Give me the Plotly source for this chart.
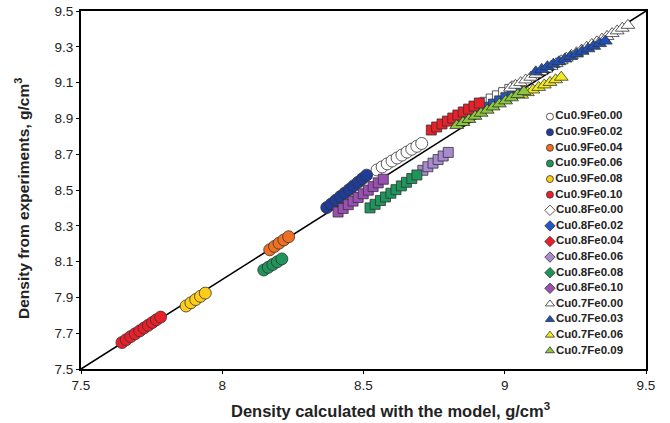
import plotly.graph_objects as go

# ---- data ----
cu9fe00_x = [8.548, 8.566, 8.584, 8.601, 8.619, 8.636, 8.654, 8.671, 8.689, 8.706]
cu9fe00_y = [8.612, 8.629, 8.646, 8.662, 8.679, 8.695, 8.712, 8.728, 8.744, 8.760]
cu9fe02_x = [8.370, 8.386, 8.402, 8.418, 8.434, 8.450, 8.465, 8.481, 8.496, 8.511]
cu9fe02_y = [8.402, 8.422, 8.443, 8.463, 8.483, 8.503, 8.523, 8.543, 8.563, 8.583]
cu9fe04_x = [8.168, 8.185, 8.201, 8.218, 8.235]
cu9fe04_y = [8.166, 8.185, 8.203, 8.221, 8.239]
cu9fe06_x = [8.147, 8.163, 8.179, 8.195, 8.211]
cu9fe06_y = [8.053, 8.068, 8.084, 8.099, 8.115]
cu9fe08_x = [7.872, 7.889, 7.906, 7.923, 7.940]
cu9fe08_y = [7.852, 7.870, 7.888, 7.906, 7.924]
cu9fe10_x = [7.645, 7.660, 7.676, 7.692, 7.708, 7.723, 7.738, 7.753, 7.767, 7.782]
cu9fe10_y = [7.648, 7.664, 7.681, 7.697, 7.713, 7.729, 7.744, 7.760, 7.775, 7.790]

cu8fe00_x = [8.930, 8.952, 8.974, 8.996, 9.018, 9.040]
cu8fe00_y = [8.990, 9.008, 9.026, 9.044, 9.062, 9.080]
cu8fe02_x = [8.850, 8.872, 8.894, 8.916, 8.938, 8.960, 8.982, 9.004, 9.026, 9.048]
cu8fe02_y = [8.890, 8.908, 8.926, 8.944, 8.962, 8.980, 8.998, 9.016, 9.034, 9.052]
cu8fe04_x = [8.740, 8.759, 8.778, 8.797, 8.816, 8.834, 8.853, 8.872, 8.891, 8.910]
cu8fe04_y = [8.835, 8.852, 8.869, 8.885, 8.902, 8.919, 8.936, 8.952, 8.969, 8.986]
cu8fe06_x = [8.710, 8.728, 8.746, 8.764, 8.782, 8.800]
cu8fe06_y = [8.610, 8.630, 8.650, 8.670, 8.690, 8.710]
cu8fe08_x = [8.523, 8.541, 8.560, 8.578, 8.597, 8.615, 8.634, 8.652, 8.671, 8.689]
cu8fe08_y = [8.400, 8.420, 8.441, 8.461, 8.482, 8.502, 8.523, 8.543, 8.564, 8.584]
cu8fe10_x = [8.410, 8.428, 8.446, 8.463, 8.481, 8.499, 8.517, 8.534, 8.552, 8.570]
cu8fe10_y = [8.377, 8.397, 8.418, 8.438, 8.458, 8.479, 8.499, 8.519, 8.540, 8.560]

cu7fe00_x = [9.020, 9.038, 9.056, 9.074, 9.092, 9.110, 9.128, 9.146, 9.164, 9.182, 9.200, 9.218,
             9.236, 9.254, 9.272, 9.290, 9.308, 9.326, 9.344, 9.362, 9.380, 9.398, 9.416, 9.436]
cu7fe00_y = [9.070, 9.085, 9.100, 9.115, 9.130, 9.146, 9.161, 9.176, 9.191, 9.206, 9.222, 9.237,
             9.252, 9.267, 9.282, 9.298, 9.313, 9.328, 9.343, 9.358, 9.374, 9.389, 9.404, 9.420]
cu7fe03_x = [9.110, 9.131, 9.151, 9.172, 9.192, 9.213, 9.233, 9.254, 9.274, 9.295, 9.315, 9.336, 9.356]
cu7fe03_y = [9.160, 9.174, 9.189, 9.203, 9.217, 9.232, 9.246, 9.260, 9.275, 9.289, 9.303, 9.318, 9.332]
cu7fe06_x = [9.060, 9.080, 9.100, 9.120, 9.140, 9.160, 9.180, 9.200]
cu7fe06_y = [9.030, 9.044, 9.059, 9.073, 9.087, 9.101, 9.116, 9.130]
cu7fe09_x = [8.830, 8.852, 8.873, 8.895, 8.916, 8.938, 8.959, 8.981, 9.003, 9.024, 9.046, 9.068]
cu7fe09_y = [8.860, 8.877, 8.894, 8.912, 8.929, 8.946, 8.964, 8.981, 8.998, 9.015, 9.033, 9.050]

diag = [7.5, 9.5]
x_ticks = [7.5, 8, 8.5, 9, 9.5]
x_tick_labels = ["7.5", "8", "8.5", "9", "9.5"]
y_ticks = [7.5, 7.7, 7.9, 8.1, 8.3, 8.5, 8.7, 8.9, 9.1, 9.3, 9.5]
y_tick_labels = ["7.5", "7.7", "7.9", "8.1", "8.3", "8.5", "8.7", "8.9", "9.1", "9.3", "9.5"]
x_title = "Density calculated with the model, g/cm<sup>3</sup>"
y_title = "Density from experiments, g/cm<sup>3</sup>"

FONT = "Arial, Liberation Sans, sans-serif"
TXT = "#222222"
OUT = dict(color="#333333", width=0.8)

# (name, x, y, plot symbol, legend symbol, color, plot size, legend size)
series = [
    ("Cu0.9Fe0.00", cu9fe00_x, cu9fe00_y, "circle", "circle", "#FFFFFF", 12, 7),
    ("Cu0.9Fe0.02", cu9fe02_x, cu9fe02_y, "circle", "circle", "#1F3C98", 12, 7),
    ("Cu0.9Fe0.04", cu9fe04_x, cu9fe04_y, "circle", "circle", "#F07023", 12, 7),
    ("Cu0.9Fe0.06", cu9fe06_x, cu9fe06_y, "circle", "circle", "#1F955C", 12, 7),
    ("Cu0.9Fe0.08", cu9fe08_x, cu9fe08_y, "circle", "circle", "#FFCC1A", 12, 7),
    ("Cu0.9Fe0.10", cu9fe10_x, cu9fe10_y, "circle", "circle", "#E8202A", 12, 7),
    ("Cu0.8Fe0.00", cu8fe00_x, cu8fe00_y, "square", "diamond", "#FFFFFF", 10, 8),
    ("Cu0.8Fe0.02", cu8fe02_x, cu8fe02_y, "square", "diamond", "#2457C5", 10, 8),
    ("Cu0.8Fe0.04", cu8fe04_x, cu8fe04_y, "square", "diamond", "#E8202A", 10, 8),
    ("Cu0.8Fe0.06", cu8fe06_x, cu8fe06_y, "square", "diamond", "#A88BCF", 10, 8),
    ("Cu0.8Fe0.08", cu8fe08_x, cu8fe08_y, "square", "diamond", "#1F955C", 10, 8),
    ("Cu0.8Fe0.10", cu8fe10_x, cu8fe10_y, "square", "diamond", "#9A4FB3", 10, 8),
    ("Cu0.7Fe0.00", cu7fe00_x, cu7fe00_y, "triangle-up", "triangle-up", "#FFFFFF", 12, 8),
    ("Cu0.7Fe0.03", cu7fe03_x, cu7fe03_y, "triangle-up", "triangle-up", "#1F4FB8", 12, 8),
    ("Cu0.7Fe0.06", cu7fe06_x, cu7fe06_y, "triangle-up", "triangle-up", "#F2EC1E", 12, 8),
    ("Cu0.7Fe0.09", cu7fe09_x, cu7fe09_y, "triangle-up", "triangle-up", "#8CC63E", 12, 8),
]

fig = go.Figure()
fig.add_trace(go.Scatter(x=diag, y=diag, mode="lines", line=dict(color="black", width=1.6),
                         showlegend=False, hoverinfo="skip"))

for name, xs, ys, sym, lsym, col, sz, lsz in series:
    fig.add_trace(go.Scatter(x=xs, y=ys, mode="markers", name=name, showlegend=False,
                             marker=dict(symbol=sym, color=col, size=sz, line=OUT)))

# compact legend drawn on an overlay axis spanning the plot area (0..1)
LEG_X = 0.830
LEG_TOP = 0.705
LEG_STEP = 0.0436
for i, (name, xs, ys, sym, lsym, col, sz, lsz) in enumerate(series):
    fig.add_trace(go.Scatter(
        x=[LEG_X], y=[LEG_TOP - i * LEG_STEP], xaxis="x2", yaxis="y2",
        mode="markers+text", text=["<b>" + name + "</b>"], textposition="middle right",
        textfont=dict(size=11.5, family=FONT, color=TXT), showlegend=False, hoverinfo="skip",
        marker=dict(symbol=lsym, color=col, size=lsz, line=OUT)))

fig.update_layout(
    width=670, height=423,
    margin=dict(l=81, r=24, t=11, b=54),
    paper_bgcolor="white", plot_bgcolor="white",
    font=dict(family=FONT, color=TXT),
    showlegend=False,
    xaxis=dict(range=[7.5, 9.5], tickvals=x_ticks, ticktext=x_tick_labels,
               showline=True, mirror=True, linecolor="black", linewidth=2,
               ticks="outside", ticklen=3, tickcolor="black", showgrid=False, zeroline=False,
               tickfont=dict(size=13.5, family=FONT, color=TXT), automargin=False,
               ticklabeloverflow="allow", tickprefix="<b>", ticksuffix="</b>"),
    yaxis=dict(range=[7.5, 9.5], tickvals=y_ticks, ticktext=y_tick_labels,
               showline=True, mirror=True, linecolor="black", linewidth=2,
               ticks="outside", ticklen=3, tickcolor="black", showgrid=False, zeroline=False,
               tickfont=dict(size=13.5, family=FONT, color=TXT), automargin=False,
               ticklabeloverflow="allow", tickprefix="<b>", ticksuffix="</b>"),
    xaxis2=dict(overlaying="x", range=[0, 1], visible=False, fixedrange=True),
    yaxis2=dict(overlaying="y", range=[0, 1], visible=False, fixedrange=True),
    annotations=[
        dict(text="<b>" + x_title + "</b>", xref="paper", yref="paper", x=0.548, y=-0.1145,
             xanchor="center", yanchor="middle", showarrow=False,
             font=dict(size=16.5, family=FONT, color=TXT)),
        dict(text="<b>" + y_title + "</b>", xref="paper", yref="paper", x=-0.1044, y=0.475,
             xanchor="center", yanchor="middle", showarrow=False, textangle=-90,
             font=dict(size=15.5, family=FONT, color=TXT)),
    ],
)

# remove the default 8px page margin so the figure fills the 670x423 window exactly
fig.write_html("out.html", config={"displayModeBar": False},
               post_script="document.body.style.margin='0';")
